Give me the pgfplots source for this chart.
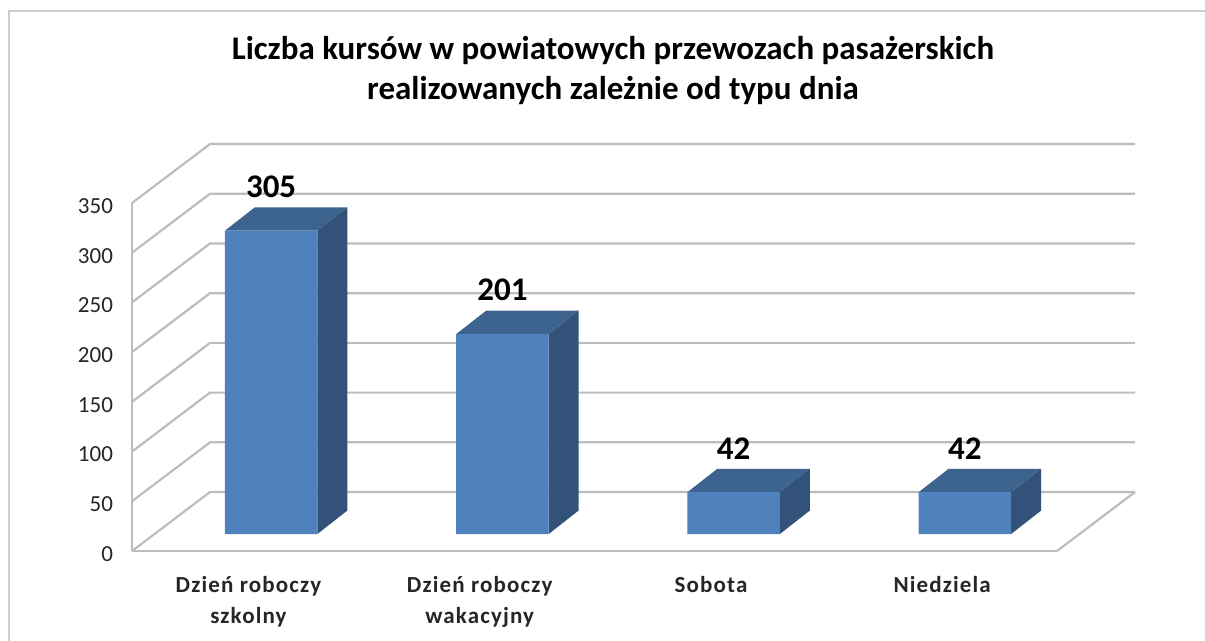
\documentclass[border=0pt]{standalone}
\usepackage{pgfplots}
\pgfplotsset{compat=1.18}
\usepackage{fontspec}
\setmainfont{Carlito}
\definecolor{gridc}{HTML}{BDBDBD}
\definecolor{framec}{HTML}{CDCDCD}
\definecolor{front}{HTML}{4F81BD}
\definecolor{topc}{HTML}{3C648F}
\definecolor{sidec}{HTML}{32527A}
\pgfplotsset{
  gridline/.style={draw=gridc,line width=2.2pt,forget plot},
  barface/.style={draw=none,xshift=23.5pt,yshift=17pt,forget plot},
}
\begin{document}
\begin{tikzpicture}[x=1pt,y=1pt]
\path[use as bounding box] (-132,-89) rectangle (1073,551);
\clip (-132,-89) rectangle (1073,551);
\fill[white] (-132,-89) rectangle (1073,551);
\draw[framec,line width=1.8pt] (-123,-95) -- (-123,540) -- (1080,540);
\begin{axis}[
  at={(0,0)},anchor=south west,
  scale only axis,width=925pt,height=348pt,
  xmin=-0.5,xmax=3.5,ymin=0,ymax=350,
  clip=false,
  axis x line=bottom,axis y line=left,
  axis line style={draw=gridc,line width=2.2pt,-},
  xtick={0,1,2,3},
  xticklabels={{Dzień roboczy\\szkolny},{Dzień roboczy\\wakacyjny},{Sobota},{Niedziela}},
  x tick label style={font=\fontsize{23}{31}\selectfont\bfseries\addfontfeatures{LetterSpace=5},align=center,anchor=north,yshift=-22pt,xshift=0.8pt,text=black!85},
  ytick={0,50,100,150,200,250,300,350},
  y tick label style={font=\fontsize{23}{24}\selectfont,anchor=east,xshift=-15.5pt,yshift=-3pt,text=black!85},
  /pgf/number format/assume math mode=true,
  major tick length=0pt,
  tick style={draw=none},
  nodes near coords style={font=\fontsize{33}{36}\selectfont\bfseries,text=black},
]
% side walls and back wall grid lines
\addplot[gridline] coordinates {(-0.5,0) (-0.1627,59.3) (3.8373,59.3)};
\addplot[gridline] coordinates {(-0.5,50) (-0.1627,109.3) (3.8373,109.3)};
\addplot[gridline] coordinates {(-0.5,100) (-0.1627,159.3) (3.8373,159.3)};
\addplot[gridline] coordinates {(-0.5,150) (-0.1627,209.3) (3.8373,209.3)};
\addplot[gridline] coordinates {(-0.5,200) (-0.1627,259.3) (3.8373,259.3)};
\addplot[gridline] coordinates {(-0.5,250) (-0.1627,309.3) (3.8373,309.3)};
\addplot[gridline] coordinates {(-0.5,300) (-0.1627,359.3) (3.8373,359.3)};
\addplot[gridline] coordinates {(-0.5,350) (-0.1627,409.3) (3.8373,409.3)};
\addplot[gridline] coordinates {(3.5,0) (3.8373,59.3)};
% top faces
\addplot[barface,fill=topc] coordinates {(-0.2,305) (0.2,305) (0.3297,328.6) (-0.0703,328.6)} -- cycle;
\addplot[barface,fill=topc] coordinates {(0.8,201) (1.2,201) (1.3297,224.6) (0.9297,224.6)} -- cycle;
\addplot[barface,fill=topc] coordinates {(1.8,42) (2.2,42) (2.3297,65.6) (1.9297,65.6)} -- cycle;
\addplot[barface,fill=topc] coordinates {(2.8,42) (3.2,42) (3.3297,65.6) (2.9297,65.6)} -- cycle;
% side faces
\addplot[barface,fill=sidec] coordinates {(0.2,0) (0.3297,23.6) (0.3297,328.6) (0.2,305)} -- cycle;
\addplot[barface,fill=sidec] coordinates {(1.2,0) (1.3297,23.6) (1.3297,224.6) (1.2,201)} -- cycle;
\addplot[barface,fill=sidec] coordinates {(2.2,0) (2.3297,23.6) (2.3297,65.6) (2.2,42)} -- cycle;
\addplot[barface,fill=sidec] coordinates {(3.2,0) (3.3297,23.6) (3.3297,65.6) (3.2,42)} -- cycle;
% front faces with the values
\addplot[ybar,bar width=92.5pt,bar shift=0pt,barface,fill=front,
  nodes near coords,
  every node near coord/.append style={anchor=center,yshift=44pt}]
  coordinates {(0,305) (1,201) (2,42) (3,42)};
\end{axis}
\node[font=\fontsize{33}{40}\selectfont\bfseries,align=center,anchor=center] at (481,481)
  {Liczba kursów w powiatowych przewozach pasażerskich\\realizowanych zależnie od typu dnia};
\end{tikzpicture}
\end{document}
